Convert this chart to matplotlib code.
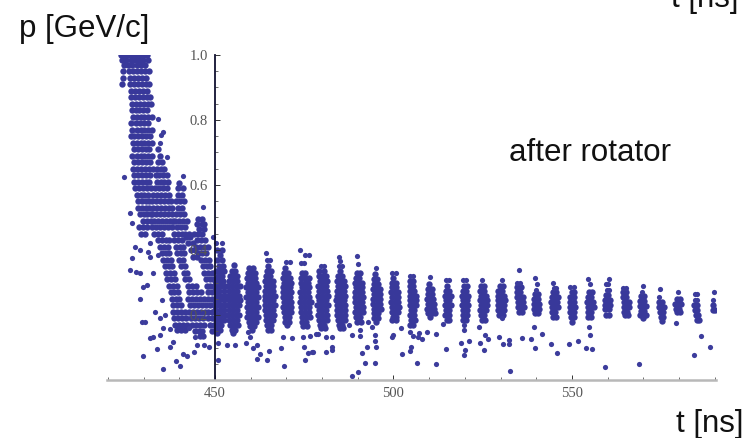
import matplotlib
matplotlib.use('Agg')
import matplotlib.pyplot as plt
import numpy as np

# points, each row is (p, [t, t, ...])
streak_main = [
 (1.00,[423.5,424.6,425.7,426.8,427.9,429.0,430.1,431.0]),
 (.985,[423.9,425.1,426.3,427.5,428.7,429.9,431.2]),
 (.97,[424.4,425.6,426.8,428.0,429.2,430.4]),
 (.95,[424.1,426.0,427.1,428.2,429.3,430.4,431.4]),
 (.93,[424.3,426.2,427.3,428.4,429.5,430.6]),
 (.91,[423.9,426.1,427.2,428.3,429.4,430.6,431.5]),
 (.89,[426.5,427.6,428.7,429.8,430.9]),
 (.87,[426.4,427.5,428.6,429.7,430.8,431.8]),
 (.85,[426.7,427.8,428.9,430.0,431.1,432.0]),
 (.83,[426.6,427.7,428.8,429.9,431.0]),
 (.81,[426.9,428.0,429.1,430.2,431.3,432.2]),
 (.79,[426.5,427.8,428.9,430.0,431.1]),
 (.77,[426.8,428.0,429.1,430.2,431.3,432.3]),
 (.75,[426.3,427.4,428.5,429.6,430.7,431.8]),
 (.73,[426.9,428.0,429.1,430.2,431.3,432.4]),
 (.71,[427.2,428.3,429.4,430.5,431.6]),
 (.69,[426.8,428.0,429.1,430.2,431.3,432.4]),
 (.67,[427.3,428.4,429.5,430.6,431.7]),
 (.65,[427.0,428.1,429.2,430.3,431.4,432.5]),
 (.63,[427.4,428.5,429.6,430.7,431.8]),
 (.61,[427.2,428.3,429.4,430.5,431.6]),
 (.59,[427.6,428.7,429.8,430.9,431.9]),
 (.57,[428.0,429.1,430.2,431.3]),
 (.55,[428.3,429.4,430.5,431.5]),
 (.53,[428.5,429.6,430.7,431.6]),
 (.51,[428.9,430.0,431.0,432.0]),
 (.49,[429.8,430.9,431.9]),
 (.47,[428.6,429.7,430.9,432.3]),
 (.45,[429.3,430.4,432.9,433.9,435.0]),
]
streak_2 = [
 (.71,[434.0]),(.69,[434.6]),(.67,[433.9,435.0]),
 (.65,[433.6,434.7,435.8]),(.63,[433.3,434.4,435.5,436.4]),
 (.61,[433.6,434.7,435.8,436.8]),(.59,[433.2,434.3,435.4,436.5]),
 (.57,[432.6,433.7,434.8,435.9,437.0]),(.55,[432.3,433.4,434.5,435.6,436.7,437.6]),
 (.53,[432.7,433.8,434.9,436.0,437.1,438.0]),(.51,[432.4,433.5,434.6,435.7,436.8,437.9]),
 (.49,[433.0,434.1,435.2,436.3,437.4,438.2]),(.47,[433.5,434.6,435.7,436.8,437.9]),
]
streak_3 = [
 (.606,[440.0]),(.59,[439.7,440.9]),(.57,[439.5,440.7]),
 (.55,[439.1,440.2,441.3]),(.53,[439.6,440.7]),(.51,[439.1,440.2,441.4]),
 (.49,[438.9,440.0,441.1,442.0]),(.47,[439.4,440.5,441.7]),
 (.45,[438.4,439.5,440.6,441.7,442.6]),
]
streak_4 = [
 (.495,[445.3,446.3]),(.48,[445.0,446.2,447.0]),(.465,[445.6,446.8]),
 (.45,[444.0,445.2,446.3]),(.43,[445.0,446.1,447.2]),(.41,[444.6,445.7,446.9,447.9]),
 (.39,[445.2,446.4,447.5]),(.37,[446.0,447.1,448.2]),(.35,[446.5,447.6,448.7]),
 (.33,[447.0,448.1,449.2]),(.31,[447.5,448.6,449.6]),
]
diag_1 = [
 (.43,[434.0,435.1,436.2,437.2]),(.41,[434.6,435.7,436.8]),(.39,[435.0,436.1,437.2]),
 (.37,[435.4,436.5,437.6]),(.35,[435.9,437.0,438.0]),(.33,[436.3,437.4,438.4]),
 (.31,[436.6,437.7,438.7]),(.29,[437.1,438.2,439.2]),(.27,[437.5,438.6,439.6]),
 (.25,[437.9,439.0,440.0]),(.23,[438.2,439.3,440.4]),(.21,[438.3,439.4,440.5,441.6]),
 (.19,[438.5,439.6,440.7,441.8]),(.17,[438.9,440.0,441.1,442.1]),(.155,[439.3,440.5,441.6]),
]
diag_2 = [
 (.43,[438.5,439.6,440.7]),(.41,[439.0,440.1,441.1]),(.39,[439.4,440.5,441.4]),
 (.37,[440.0,441.1]),(.35,[440.5,441.5]),(.33,[441.2,442.2]),(.31,[441.7,442.8]),
 (.29,[442.4,443.5,444.6]),(.27,[442.8,443.9,445.0,446.0]),(.25,[442.5,443.6,444.7,445.8,446.8]),
 (.23,[443.0,444.1,445.2,446.3]),(.21,[442.8,443.9,445.0,446.1,447.1]),
 (.19,[443.2,444.3,445.4,446.5]),(.17,[443.6,444.7,445.8,446.8]),(.15,[444.3,445.4,446.4]),
 (.135,[445.7,446.6]),
]
diag_3 = [
 (.44,[441.8,443.0]),(.42,[442.4,443.7]),(.40,[443.2,444.3]),(.38,[443.9,445.0]),
 (.29,[447.6,448.7,449.6]),(.27,[448.0,449.1]),(.25,[447.9,449.0,449.9]),
 (.23,[447.5,448.6,449.7]),(.21,[447.9,449.0,449.9]),(.19,[448.0,449.1]),
 (.17,[448.6,449.6]),(.15,[449.2,450.0]),
]

bunch_451 = [(.40,[450.6,451.8]),(.385,[451.3]),(.37,[450.4,451.9]),
 (.35,[451.0,452.1]),(.335,[450.2,451.3,452.4]),(.32,[450.7,451.9]),(.305,[450.1,451.1,452.3]),
 (.29,[450.5,451.7,452.9]),(.275,[450.0,451.1,452.4]),(.26,[450.4,451.6,452.8]),(.245,[450.0,451.2,452.4]),
 (.23,[450.5,451.7,452.8]),(.215,[450.1,451.3,452.5]),(.20,[450.5,451.7,452.8]),(.185,[450.2,451.4,452.5]),
 (.17,[450.5,451.7]),(.155,[450.2,451.3]),(.145,[450.6])]
bunch_455 = [(.354,[455.2]),(.335,[454.6,455.7]),(.32,[454.2,455.3,456.2]),(.305,[453.9,455.0,456.1]),
 (.29,[453.7,454.8,455.9,456.9]),(.275,[453.9,455.0,456.1]),(.26,[453.5,454.6,455.7,456.8]),
 (.245,[453.9,455.0,456.1,457.0]),(.23,[453.5,454.6,455.7,456.8]),(.215,[453.9,455.0,456.1]),
 (.20,[453.6,454.7,455.8,456.8]),(.185,[454.0,455.1,456.2]),(.17,[454.2,455.3,456.3]),
 (.155,[454.6,455.6]),(.145,[455.1])]
bunch_460 = [(.345,[459.6,460.6]),(.33,[459.2,460.3,461.2]),(.315,[459.0,460.1,461.2]),
 (.30,[459.2,460.3,461.4]),(.285,[458.8,459.9,461.0,462.0]),(.27,[459.2,460.3,461.4]),
 (.255,[458.8,459.9,461.0,462.0]),(.24,[459.2,460.3,461.4]),(.225,[458.9,460.0,461.1,462.1]),
 (.21,[459.2,460.3,461.4]),(.195,[459.0,460.1,461.2,462.1]),(.18,[459.5,460.6,461.6]),
 (.165,[459.8,460.8]),(.154,[460.3])]
bunch_465 = [(.35,[464.9]),(.335,[464.6,465.7]),(.32,[464.4,465.5]),
 (.305,[464.1,465.2,466.2]),(.29,[464.2,465.3,466.3]),(.275,[463.9,465.0,466.1]),(.26,[464.0,465.1,466.2,466.9]),
 (.245,[463.9,465.0,466.1]),(.23,[464.0,465.1,466.2,466.8]),(.215,[464.0,465.1,466.2]),
 (.20,[464.2,465.3,466.4]),(.185,[464.3,465.4,466.2]),(.17,[464.6,465.6]),(.155,[464.9,465.7])]
bunch_470 = [(.345,[469.5]),(.33,[469.3,470.3]),(.315,[469.0,470.0,471.0]),
 (.30,[469.2,470.2,471.2]),(.285,[468.9,470.0,471.1]),(.27,[469.0,470.1,471.2]),(.255,[468.9,470.0,471.1]),
 (.24,[469.2,470.3,471.3]),(.225,[469.0,470.1,471.2]),(.21,[469.4,470.5,471.4]),(.195,[469.5,470.6]),
 (.18,[469.7,470.7]),(.17,[470.2])]
bunch_475 = [(.33,[474.4,475.3]),(.315,[474.2,475.3,476.2]),
 (.30,[474.0,475.1,476.1]),(.285,[474.3,475.4,476.4]),(.27,[473.9,475.0,476.1]),(.255,[474.2,475.3,476.3]),
 (.24,[473.9,475.0,476.1,476.9]),(.225,[474.2,475.3,476.4]),(.21,[474.1,475.2,476.3]),
 (.195,[474.4,475.5,476.5]),(.18,[474.4,475.5]),(.165,[474.7,475.7])]
bunch_480 = [(.335,[479.2,480.4]),(.32,[479.0,480.1,481.1]),(.305,[479.3,480.4,481.3]),
 (.29,[478.9,480.0,481.1]),(.275,[479.2,480.3,481.4]),(.26,[478.8,479.9,481.0,481.6]),(.245,[479.0,480.1,481.2]),
 (.23,[478.7,479.8,480.9,481.7]),(.215,[479.0,480.1,481.2]),(.20,[478.8,479.9,481.0,481.5]),
 (.185,[479.2,480.3,481.3]),(.17,[479.4,480.5]),(.16,[479.8,480.9])]
bunch_485 = [(.335,[484.9]),(.32,[484.5,485.5]),
 (.305,[484.2,485.2,486.1]),(.29,[484.4,485.4,486.3]),(.275,[484.1,485.1,486.2]),(.26,[484.3,485.3,486.3]),
 (.245,[484.0,485.1,486.1]),(.23,[484.3,485.3,486.3]),(.215,[484.1,485.2,486.3]),(.20,[484.3,485.4,486.3]),
 (.185,[484.5,485.5,486.4]),(.17,[484.6,485.6]),(.16,[484.9,485.8])]
bunch_490 = [(.33,[489.7,490.5]),(.315,[489.4,490.4]),(.30,[489.2,490.3,491.2]),
 (.285,[489.4,490.4,491.3]),(.27,[489.1,490.2,491.2]),(.255,[489.3,490.3,491.4]),(.24,[489.2,490.3,491.3]),
 (.225,[489.4,490.5,491.4]),(.21,[489.3,490.4,491.4]),(.195,[489.6,490.6]),(.18,[489.9,490.9])]
bunch_495 = [(.325,[494.7]),(.31,[494.4,495.4]),(.295,[494.6,495.6]),(.28,[494.3,495.3,496.2]),
 (.265,[494.4,495.4,496.3]),(.25,[494.2,495.3,496.3]),(.235,[494.3,495.3,496.3]),(.22,[494.4,495.5,496.4]),
 (.205,[494.5,495.6]),(.19,[494.6,495.6]),(.178,[495.0])]
bunch_500 = [(.315,[500.0]),(.30,[499.5,500.6]),(.285,[499.7,500.7]),(.27,[499.4,500.4,501.2]),
 (.255,[499.6,500.6,501.4]),(.24,[499.3,500.4,501.3]),(.225,[499.6,500.6,501.5]),(.21,[499.5,500.5,501.3]),
 (.195,[499.8,500.8]),(.185,[499.7,500.6])]
bunch_505 = [(.305,[504.6,505.5]),(.29,[504.5,505.4]),(.275,[504.6,505.7]),(.26,[504.5,505.5,506.2]),
 (.245,[504.7,505.7,506.4]),(.23,[504.6,505.6,506.4]),(.215,[504.8,505.8]),(.20,[504.7,505.7]),(.185,[504.9,505.9]),
 (.17,[504.6,505.5])]
bunch_510 = [(.295,[509.9]),(.28,[509.8,510.7]),(.265,[509.7,510.7]),(.25,[509.5,510.5,511.2]),
 (.235,[509.7,510.7,511.4]),(.22,[509.5,510.6,511.4]),(.205,[509.8,510.8,511.5]),(.195,[510.2])]
bunch_515 = [(.29,[514.9]),(.275,[514.6,515.6]),(.26,[514.4,515.4,516.0]),(.245,[514.6,515.6]),
 (.23,[514.4,515.4,516.1]),(.215,[514.6,515.6]),(.20,[514.5,515.5]),(.185,[514.9,515.7])]
bunch_520 = [(.29,[519.7,520.5]),(.275,[519.4,520.4]),(.26,[519.3,520.3,521.0]),
 (.245,[519.5,520.5]),(.23,[519.3,520.3,521.0]),(.215,[519.5,520.5]),(.20,[519.6,520.6]),(.185,[519.5,520.4]),(.19,[520.1])]
bunch_525 = [(.29,[524.6,525.5]),(.275,[524.3,525.3]),(.26,[524.4,525.4,526.0]),(.245,[524.2,525.2,526.1]),
 (.23,[524.4,525.4,526.1]),(.215,[524.3,525.3,526.0]),(.20,[524.6,525.5]),(.185,[524.8,525.7])]
bunch_530 = [(.29,[529.8,530.6]),(.275,[529.4,530.4]),(.26,[529.2,530.2,531.0]),(.245,[529.4,530.4,531.2]),
 (.23,[529.2,530.2,531.1]),(.215,[529.4,530.4,531.0]),(.20,[529.7,530.6])]
bunch_535 = [(.285,[534.7,535.7]),(.27,[534.7,535.6]),(.255,[534.6,535.6,536.2]),
 (.24,[534.8,535.7,536.3]),(.225,[535.0,535.9,536.5]),(.21,[535.3,536.1])]
bunch_540 = [(.265,[539.8,540.5]),(.25,[539.5,540.4]),(.235,[539.3,540.2,540.9]),
 (.22,[539.4,540.3,540.9]),(.205,[539.6,540.5])]
bunch_545 = [(.27,[544.6,545.5]),(.255,[544.3,545.2,546.0]),(.24,[544.2,545.1,545.9]),
 (.225,[544.3,545.2,546.0]),(.21,[544.4,545.3]),(.195,[544.7,545.5])]
bunch_550 = [(.27,[549.9,550.7]),(.255,[549.6,550.5]),(.24,[549.5,550.5]),(.225,[549.5,550.4,551.0]),
 (.21,[549.6,550.5]),(.195,[549.8,550.6]),(.18,[550.1])]
bunch_555 = [(.27,[554.8,555.6]),(.255,[554.5,555.4]),(.24,[554.3,555.2,556.0]),
 (.225,[554.4,555.3,556.2]),(.21,[554.4,555.3]),(.195,[554.6,555.4])]
bunch_560 = [(.262,[559.5,560.2]),(.247,[559.2,560.1,560.6]),
 (.232,[559.3,560.2,560.7]),(.217,[559.4,560.3]),(.20,[559.5,560.3])]
bunch_565 = [(.27,[564.3,565.2]),(.255,[564.3,565.2]),(.24,[564.5,565.3,565.9]),(.225,[564.6,565.5,566.0]),
 (.21,[564.6,565.5]),(.20,[564.8,565.6])]
bunch_570 = [(.258,[569.3,570.2]),(.243,[569.2,570.1]),(.228,[569.1,570.0,570.7]),
 (.213,[569.3,570.2]),(.20,[569.2,570.2,570.8]),(.19,[569.8])]
bunch_575 = [(.24,[574.3,575.2]),(.225,[574.4,575.3,575.8]),(.21,[574.8,575.6]),(.195,[575.0,575.6]),(.183,[575.3])]
bunch_580 = [(.25,[579.6,580.3]),(.235,[579.0,579.8,580.5]),(.22,[579.2,580.1]),(.21,[579.6,580.4])]
bunch_585 = [(.23,[584.2,585.0]),(.215,[584.5,585.2]),(.20,[584.8,585.4]),(.185,[585.0,585.7])]
bunch_590 = [(.23,[589.5]),(.215,[589.6,590.2])]

# single points around the dense bands
stray_t = [424.6,426.2,426.7,426.7,426.2,427.9,429.0,432.7,429.9,430.9,429.0,435.1,433.2,434.6,436.0,429.5,430.4,431.8,
 432.7,434.6,435.5,437.4,438.3,437.4,433.8,429.7,439.1,440.2,435.3,440.9,442.2,444.1,445.0,446.9,448.4,444.4,442.8,
 453.4,455.7,458.8,460.7,459.3,459.8,461.7,462.6,464.5,461.8,465.2,468.6,469.4,469.0,471.6,475.2,474.9,476.1,477.5,
 474.7,476.6,478.4,450.9,450.9,427.6,429.0,431.8,431.3,431.8,434.1,
 478.9,481.1,482.9,482.7,481.1,482.7,477.1,487.6,488.3,490.6,490.6,492.9,493.9,494.8,494.8,492.5,495.0,491.3,492.0,
 494.8,490.1,488.3,502.0,500.0,499.5,504.6,505.0,504.6,502.3,506.5,505.5,506.9,507.9,507.2,509.4,512.0,512.0,513.9,
 514.7,519.7,519.7,518.9,521.2,520.0,519.7,523.9,525.6,526.5,524.2,525.3,529.5,530.7,532.3,532.3,532.6,536.0,530.5,
 539.3,538.5,539.7,541.6,544.1,545.7,549.3,551.6,554.9,555.1,553.9,555.6,559.3,568.9,579.1,586.1,588.7,584.3,
 434.0,435.4,434.9,434.6,436.4,441.0,446.6,449.4,450.3,451.9,464.3,464.6,465.5,469.9,470.9,473.9,475.3,476.2,474.0,475.0,
 479.6,480.6,484.6,485.0,484.6,485.5,489.7,490.1,495.0,499.6,500.6,504.5,505.4,510.1,514.6,515.5,519.5,520.4,524.9,530.3,
 535.2,534.7,535.5,539.7,540.1,540.0,544.6,544.9,545.6,549.6,550.5,554.5,555.2,560.4,559.6,560.1,559.9,560.4,564.3,565.1,
 569.9,569.7,574.6,574.5,579.7,584.4,585.2,584.5,585.2,589.7,589.6]
stray_p = [.626,.515,.483,.374,.340,.333,.330,.328,.285,.292,.248,.246,.208,.190,.200,.177,.177,.128,
 .133,.140,.159,.157,.118,.102,.095,.074,.059,.044,.034,.080,.074,.087,.108,.108,.102,.131,.159,
 .108,.108,.113,.097,.149,.133,.108,.080,.061,.066,.090,.100,.044,.131,.128,.061,.102,.082,.087,
 .133,.135,.143,.061,.113,.410,.400,.420,.395,.379,.385,
 .143,.131,.131,.102,.087,.092,.087,.169,.138,.154,.135,.179,.162,.138,.121,.102,.102,.084,.051,
 .051,.026,.012,.159,.138,.131,.149,.102,.090,.080,.051,.135,.131,.125,.146,.149,.141,.049,.172,
 .095,.169,.154,.113,.121,.092,.077,.164,.138,.125,.115,.092,.131,.111,.123,.111,.029,.128,.190,
 .164,.125,.099,.141,.110,.084,.110,.121,.164,.138,.099,.095,.041,.048,.174,.135,.102,.077,
 .803,.763,.755,.729,.685,.627,.532,.44,.42,.42,.39,.369,.369,.363,.363,.40,.385,.385,.36,.36,
 .35,.35,.38,.365,.35,.35,.382,.356,.344,.33,.33,.32,.32,.317,.308,.308,.308,.308,.308,.308,
 .338,.30,.30,.315,.294,.277,.30,.283,.283,.286,.286,.31,.295,.31,.295,.295,.277,.277,.283,.283,
 .29,.272,.28,.255,.27,.265,.265,.245,.245,.27,.245]

all_rows = [streak_main, streak_2, streak_3, streak_4, diag_1, diag_2, diag_3,
 bunch_451, bunch_455, bunch_460, bunch_465, bunch_470, bunch_475, bunch_480, bunch_485, bunch_490,
 bunch_495, bunch_500, bunch_505, bunch_510, bunch_515, bunch_520, bunch_525, bunch_530, bunch_535,
 bunch_540, bunch_545, bunch_550, bunch_555, bunch_560, bunch_565, bunch_570, bunch_575, bunch_580,
 bunch_585, bunch_590]

t = []
p = []
for rows in all_rows:
	for level, times in rows:
		t += times
		p += [level]*len(times)

W, H = 748, 438
fig = plt.figure(figsize=(W/100, H/100), dpi=100)
ax = fig.add_axes([107/W, 1-380/H, 609/W, 325/H])
# dense bands need fatter dots, the picture is blurred and they merge
ax.scatter(t, p, s=21, color='#38389a', linewidths=0)
ax.scatter(stray_t, stray_p, s=14, color='#3c3c9c', linewidths=0)
ax.set_xlim(419.7, 590.4)
ax.set_ylim(0, 1)

for s in ['top', 'right']:
	ax.spines[s].set_visible(False)
ax.spines['left'].set_position(('data', 450))
ax.spines['left'].set_linewidth(1.3)
ax.spines['left'].set_color('#101030')
ax.spines['bottom'].set_linewidth(1.8)
ax.spines['bottom'].set_color('#b8b8b8')

ax.set_xticks([450, 500, 550])
ax.set_xticks(np.arange(420, 591, 10), minor=True)
ax.set_yticks([0.2, 0.4, 0.6, 0.8, 1.0])
ax.set_yticks(np.arange(0.05, 1.0, 0.05), minor=True)
ax.tick_params(which='major', direction='in', length=3.5, width=0.7, color='#333333', labelsize=10.5, labelcolor='#555555', pad=5)
ax.tick_params(which='minor', direction='in', length=2, width=0.6, color='#555555')
for lab in ax.get_xticklabels() + ax.get_yticklabels():
	lab.set_family('Liberation Serif')

big = dict(family='Liberation Sans', fontsize=22.5, color='#111111')
fig.text(19/W, 1-37/H, 'p [GeV/c]', **big)
fig.text(509/W, 1-161/H, 'after rotator', **big)
fig.text(671/W, 1-7/H, 't [ns]', **big)
fig.text(676/W, 1-432/H, 't [ns]', **big)

fig.savefig('out.png', dpi=100)
